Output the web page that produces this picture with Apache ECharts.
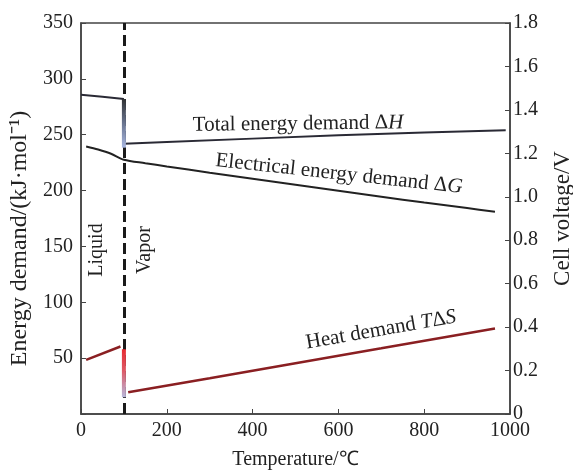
<!DOCTYPE html>
<html>
<head>
<meta charset="utf-8">
<script src="https://cdn.jsdelivr.net/npm/echarts@6/dist/echarts.min.js"></script>
<style>
    html, body { margin: 0; padding: 0; background: #fff; }
    #chart { width: 573px; height: 470px; }
</style>
</head>
<body>
<div id="chart"></div>
<script>
// data
var boilingPoint = 100;

var tempHLiquid = [0, 50, 100];
var enthalpyLiquid = [285.7, 284, 282];
var enthalpyJump = [282, 238.4];
var tempHVapor = [100, 200, 400, 600, 800, 990];
var enthalpyVapor = [242, 243.5, 246.5, 249.5, 252, 254];

var tempG = [12, 40, 70, 100, 150, 200, 300, 400, 500, 600, 700, 800, 900, 965];
var gibbs = [239.5, 236.8, 233, 227.6, 224.5, 221.6, 216, 210.6, 205.2, 199.8, 194.5, 189.3, 184.3, 181];

var tempSLiquid = [12, 92];
var heatLiquid = [48.5, 60.4];
var heatJump = [58, 15];
var tempSVapor = [110, 300, 500, 700, 965];
var heatVapor = [19.4, 32, 45.5, 58.8, 76.5];

function zip(xs, ys) {
    var out = [];
    for (var i = 0; i < xs.length; i++) {
        out.push([xs[i], ys[i]]);
    }
    return out;
}

function jump(vals) {
    return [[boilingPoint, vals[0]], [boilingPoint, vals[1]]];
}

var serif = 'Liberation Serif';
var ink = '#222';
var italic = { fontStyle: 'italic', fontFamily: serif, fontSize: 21, fill: ink };

var chart = echarts.init(document.getElementById('chart'));

chart.setOption({
    animation: false,
    grid: {
        left: 81, right: 63, top: 23, bottom: 56,
        outerBoundsMode: 'none',
        show: true, borderColor: '#444', borderWidth: 1.5
    },
    xAxis: {
        type: 'value',
        min: 0, max: 1000, interval: 200,
        name: 'Temperature/℃',
        nameLocation: 'middle',
        nameGap: 36,
        nameTextStyle: { fontFamily: serif, fontSize: 20, color: ink },
        axisLine: { lineStyle: { color: '#444', width: 1.5 } },
        axisTick: { inside: true, length: 5, lineStyle: { color: '#444' } },
        axisLabel: {
            fontFamily: serif, fontSize: 20, color: ink, margin: 7,
            formatter: function (v) { return String(v); }
        },
        splitLine: { show: false }
    },
    yAxis: [{
        type: 'value',
        min: 0, max: 350, interval: 50,
        name: 'Energy demand/(kJ·mol⁻¹)',
        nameLocation: 'middle',
        nameGap: 45,
        nameRotate: 90,
        nameTextStyle: { fontFamily: serif, fontSize: 24, color: ink, padding: [0, 40, 0, 0] },
        axisLine: { show: true, lineStyle: { color: '#444', width: 1.5 } },
        axisTick: { inside: true, length: 5, lineStyle: { color: '#444' } },
        axisLabel: {
            fontFamily: serif, fontSize: 20, color: ink, margin: 8,
            formatter: function (v) { return v === 0 ? '' : String(v); }
        },
        splitLine: { show: false }
    }, {
        type: 'value',
        position: 'right',
        min: 0, max: 1.8, interval: 0.2,
        name: 'Cell voltage/V',
        nameLocation: 'middle',
        nameGap: 41,
        nameRotate: 90,
        nameTextStyle: { fontFamily: serif, fontSize: 23, color: ink },
        axisLine: { show: true, lineStyle: { color: '#444', width: 1.5 } },
        axisTick: { inside: true, length: 5, lineStyle: { color: '#444' } },
        axisLabel: {
            fontFamily: serif, fontSize: 20, color: ink, margin: 3,
            formatter: function (v) { return v === 0 ? '0' : v.toFixed(1); }
        },
        splitLine: { show: false }
    }],
    series: [{
        name: 'boundary',
        type: 'line',
        z: 1,
        data: [],
        markLine: {
            silent: true,
            symbol: 'none',
            label: { show: false },
            lineStyle: { color: '#1a1a1a', width: 3, type: [11, 5] },
            data: [{ xAxis: boilingPoint }]
        }
    }, {
        name: 'dH liquid',
        type: 'line',
        z: 3,
        data: zip(tempHLiquid, enthalpyLiquid),
        symbol: 'none',
        lineStyle: { color: '#2a2a35', width: 2 }
    }, {
        name: 'dH jump',
        type: 'line',
        z: 5,
        data: jump(enthalpyJump),
        symbol: 'none',
        lineStyle: {
            width: 4,
            color: new echarts.graphic.LinearGradient(0, 0, 0, 1, [
                { offset: 0, color: '#2b2b2b' },
                { offset: 0.5, color: '#6a7590' },
                { offset: 1, color: '#aebde8' }
            ])
        }
    }, {
        name: 'dH vapor',
        type: 'line',
        z: 3,
        data: zip(tempHVapor, enthalpyVapor),
        symbol: 'none',
        lineStyle: { color: '#2a2a35', width: 2 }
    }, {
        name: 'dG',
        type: 'line',
        z: 3,
        data: zip(tempG, gibbs),
        symbol: 'none',
        smooth: 0.3,
        lineStyle: { color: '#222', width: 2 }
    }, {
        name: 'TdS liquid',
        type: 'line',
        z: 3,
        data: zip(tempSLiquid, heatLiquid),
        symbol: 'none',
        lineStyle: { color: '#8a1f22', width: 2.5 }
    }, {
        name: 'TdS jump',
        type: 'line',
        z: 5,
        data: jump(heatJump),
        symbol: 'none',
        lineStyle: {
            width: 4,
            color: new echarts.graphic.LinearGradient(0, 0, 0, 1, [
                { offset: 0, color: '#e8262b' },
                { offset: 0.45, color: '#de5a66' },
                { offset: 1, color: '#b4c0e6' }
            ])
        }
    }, {
        name: 'TdS vapor',
        type: 'line',
        z: 3,
        data: zip(tempSVapor, heatVapor),
        symbol: 'none',
        lineStyle: { color: '#8a1f22', width: 2.5 }
    }],
    graphic: [{
        type: 'text', x: 298, y: 124, rotation: 0.012,
        style: {
            text: 'Total energy demand Δ{i|H}',
            font: '21px "Liberation Serif"', fill: ink,
            align: 'center', verticalAlign: 'middle',
            rich: { i: italic }
        }
    }, {
        type: 'text', x: 339, y: 174, rotation: -0.109,
        style: {
            text: 'Electrical energy demand Δ{i|G}',
            font: '21px "Liberation Serif"', fill: ink,
            align: 'center', verticalAlign: 'middle',
            rich: { i: italic }
        }
    }, {
        type: 'text', x: 381, y: 330, rotation: 0.174,
        style: {
            text: 'Heat demand {i|T}Δ{i|S}',
            font: '21px "Liberation Serif"', fill: ink,
            align: 'center', verticalAlign: 'middle',
            rich: { i: italic }
        }
    }, {
        type: 'text', x: 97, y: 250, rotation: Math.PI / 2,
        style: {
            text: 'Liquid',
            font: '20px "Liberation Serif"', fill: ink,
            align: 'center', verticalAlign: 'middle'
        }
    }, {
        type: 'text', x: 145, y: 250, rotation: Math.PI / 2,
        style: {
            text: 'Vapor',
            font: '20px "Liberation Serif"', fill: ink,
            align: 'center', verticalAlign: 'middle'
        }
    }]
});
</script>
</body>
</html>
